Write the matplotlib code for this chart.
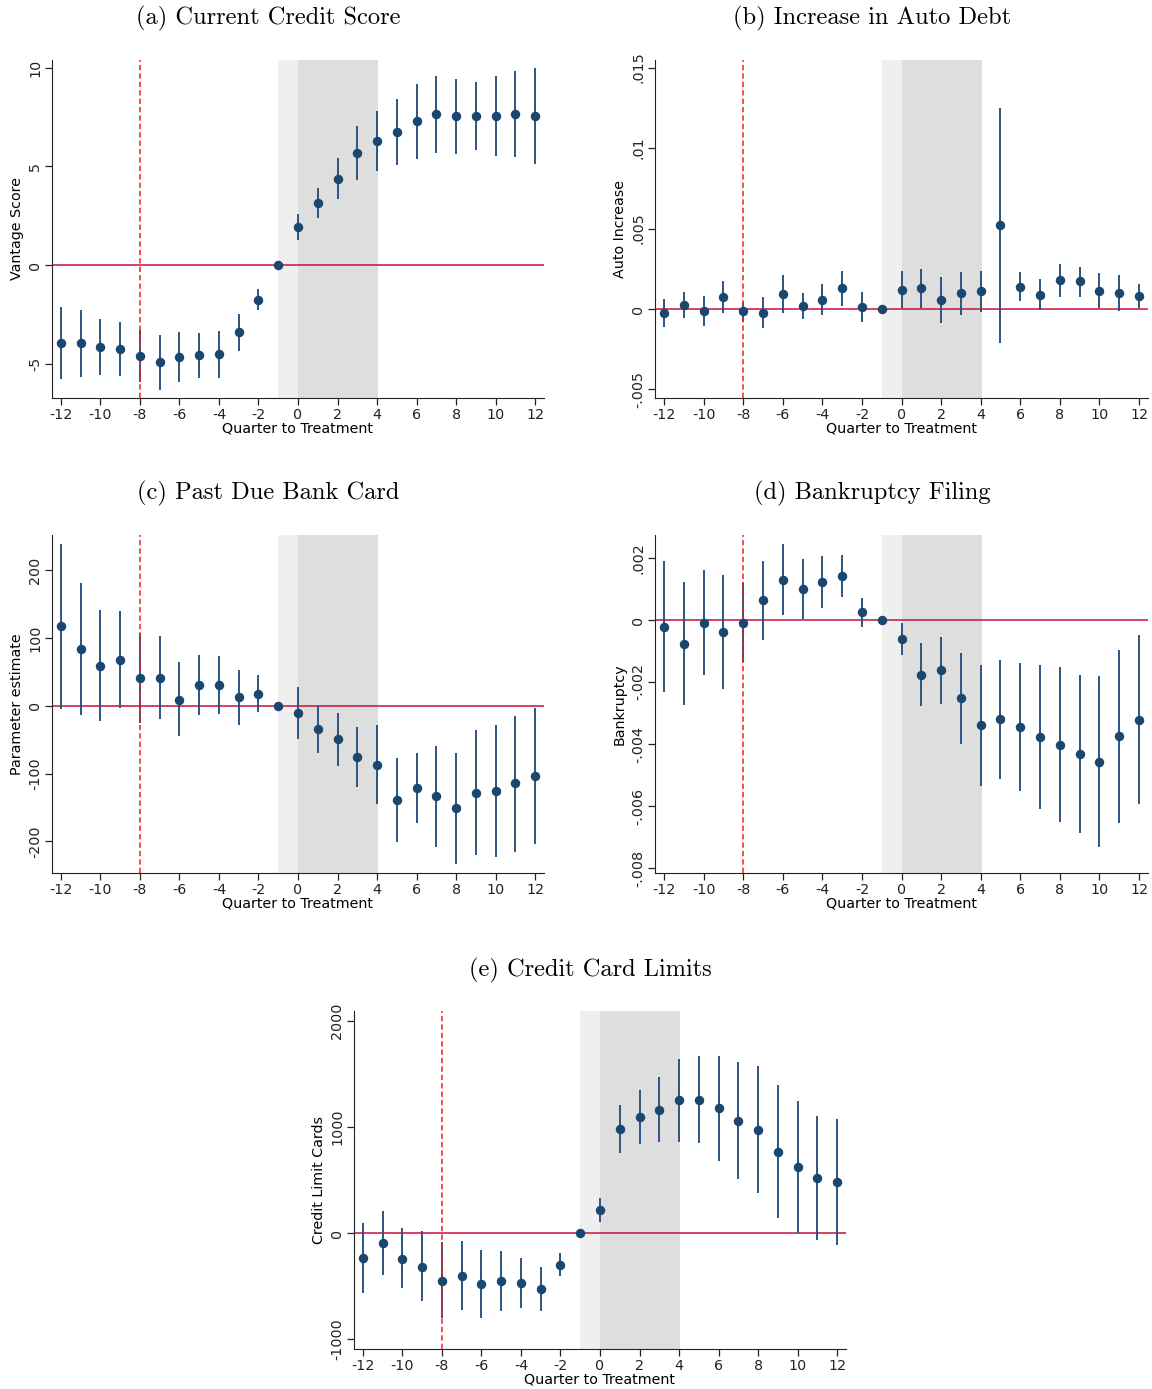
import matplotlib
matplotlib.use('Agg')
import matplotlib.pyplot as plt

# quarters relative to treatment
quarters = list(range(-12, 13))

# (a) Current Credit Score
score_est = [-3.97, -3.97, -4.18, -4.24, -4.62, -4.94, -4.65, -4.57, -4.53, -3.41, -1.77, 0.0,
             1.94, 3.14, 4.38, 5.69, 6.30, 6.76, 7.28, 7.64, 7.54, 7.56, 7.57, 7.67, 7.57]
score_hi = [-2.14, -2.27, -2.75, -2.87, -3.29, -3.55, -3.38, -3.43, -3.33, -2.48, -1.24, 0.0,
            2.58, 3.92, 5.45, 7.05, 7.81, 8.42, 9.19, 9.61, 9.46, 9.30, 9.59, 9.86, 10.0]
score_lo = [-5.81, -5.67, -5.59, -5.62, -5.93, -6.35, -5.94, -5.72, -5.76, -4.35, -2.31, 0.0,
            1.29, 2.36, 3.33, 4.31, 4.77, 5.06, 5.37, 5.67, 5.62, 5.82, 5.53, 5.48, 5.14]

# (b) Increase in Auto Debt
auto_est = [-0.00023, 0.00025, -0.00012, 0.00075, -0.00012, -0.00023, 0.00095, 0.00019, 0.00058,
            0.00129, 0.00012, 0.0, 0.00120, 0.00129, 0.00058, 0.00098, 0.00112, 0.00519, 0.00139,
            0.00089, 0.00178, 0.00172, 0.00114, 0.00100, 0.00079]
auto_hi = [0.00062, 0.00104, 0.00081, 0.00174, 0.00046, 0.00073, 0.00210, 0.00100, 0.00154,
           0.00237, 0.00104, 0.0, 0.00237, 0.00249, 0.00201, 0.00230, 0.00239, 0.01249, 0.00228,
           0.00187, 0.00282, 0.00261, 0.00224, 0.00212, 0.00154]
auto_lo = [-0.00110, -0.00058, -0.00106, -0.00027, -0.00079, -0.00120, -0.00023, -0.00064, -0.00037,
           0.00019, -0.00081, 0.0, 0.00008, 0.00008, -0.00089, -0.00039, -0.00017, -0.00214, 0.00052,
           -0.00006, 0.00073, 0.00077, 0.00004, -0.00010, 0.00004]

# (c) Past Due Bank Card
pastdue_est = [117.4, 84.0, 59.5, 68.3, 41.3, 41.8, 9.3, 30.5, 30.5, 12.8, 18.2, 0.0,
               -10.3, -33.9, -49.6, -75.2, -86.5, -139.1, -120.9, -133.2, -150.9, -128.3, -125.8, -114.5, -103.2]
pastdue_hi = [239.3, 181.3, 141.5, 140.0, 107.6, 102.7, 64.4, 75.7, 74.2, 53.1, 45.7, 0.0,
              28.0, 0.0, -10.8, -31.0, -28.5, -76.7, -68.8, -59.0, -69.3, -35.9, -28.5, -14.3, -2.5]
pastdue_lo = [-4.4, -12.8, -21.6, -2.9, -25.1, -18.7, -44.7, -13.8, -12.3, -27.5, -9.3, 0.0,
              -49.1, -68.8, -88.9, -119.9, -145.0, -201.0, -173.0, -207.9, -232.9, -220.1, -223.1, -215.2, -204.4]

# (d) Bankruptcy Filing
bank_est = [-0.00022, -0.00078, -0.00009, -0.00040, -0.00009, 0.00063, 0.00130, 0.00101, 0.00122,
            0.00142, 0.00027, 0.0, -0.00061, -0.00177, -0.00162, -0.00253, -0.00340, -0.00320,
            -0.00344, -0.00377, -0.00402, -0.00433, -0.00457, -0.00375, -0.00321]
bank_hi = [0.00190, 0.00121, 0.00160, 0.00146, 0.00121, 0.00189, 0.00245, 0.00198, 0.00205,
           0.00209, 0.00072, 0.0, -0.00009, -0.00075, -0.00054, -0.00108, -0.00144, -0.00128,
           -0.00138, -0.00144, -0.00153, -0.00179, -0.00181, -0.00097, -0.00047]
bank_lo = [-0.00233, -0.00273, -0.00178, -0.00224, -0.00137, -0.00064, 0.00015, 0.00004, 0.00039,
           0.00073, -0.00022, 0.0, -0.00114, -0.00279, -0.00270, -0.00399, -0.00536, -0.00512,
           -0.00552, -0.00609, -0.00651, -0.00686, -0.00733, -0.00654, -0.00595]

# (e) Credit Card Limits
limit_est = [-235, -97, -241, -316, -448, -401, -479, -454, -473, -529, -298, 0,
             219, 977, 1096, 1162, 1250, 1256, 1178, 1059, 974, 767, 623, 517, 479]
limit_hi = [97, 207, 44, 16, -88, -72, -160, -172, -238, -316, -191, 0,
            332, 1203, 1353, 1475, 1644, 1666, 1672, 1616, 1572, 1394, 1247, 1106, 1071]
limit_lo = [-570, -395, -523, -645, -799, -730, -799, -733, -711, -736, -404, 0,
            103, 752, 839, 855, 855, 846, 683, 507, 376, 141, 0, -66, -110]

x_ticks = list(range(-12, 13, 2))
x_labels = [str(v) for v in x_ticks]

score_ticks = [-5, 0, 5, 10]
score_labels = ['-5', '0', '5', '10']
auto_ticks = [-0.005, 0, 0.005, 0.01, 0.015]
auto_labels = ['-.005', '0', '.005', '.01', '.015']
pastdue_ticks = [-200, -100, 0, 100, 200]
pastdue_labels = ['-200', '-100', '0', '100', '200']
bank_ticks = [-0.008, -0.006, -0.004, -0.002, 0, 0.002]
bank_labels = ['-.008', '-.006', '-.004', '-.002', '0', '.002']
limit_ticks = [-1000, 0, 1000, 2000]
limit_labels = ['-1000', '0', '1000', '2000']

NAVY = '#1a476f'
BAR = '#2b5580'


def draw_panel(ax, est, lo, hi, ylim, yticks, ylabels, ylabel):
    ax.axvspan(-1, 0, color='#efefef', lw=0, zorder=0)
    ax.axvspan(0, 4.05, color='#dedede', lw=0, zorder=0)
    ax.axhline(0, color='#c8103a', lw=1.1, zorder=1)
    ax.vlines(quarters, lo, hi, color=BAR, lw=1.4, zorder=2)
    ax.axvline(-8, color='#ee2222', lw=1.1, ls=(0, (3.5, 2)), zorder=3)
    ax.plot(quarters, est, 'o', color=NAVY, ms=5.8, zorder=4)
    ax.set_xlim(-12.45, 12.45)
    ax.set_ylim(*ylim)
    ax.set_xticks(x_ticks)
    ax.set_xticklabels(x_labels, fontsize=10.3)
    ax.set_yticks(yticks)
    ax.set_yticklabels(ylabels, fontsize=10.3, rotation=90, va='center')
    ax.set_xlabel('Quarter to Treatment', fontsize=10.3, labelpad=0)
    ax.set_ylabel(ylabel, fontsize=10.3, labelpad=3)
    for s in ['top', 'right']:
        ax.spines[s].set_visible(False)
    ax.spines['left'].set_color('#222222')
    ax.spines['bottom'].set_color('#222222')
    ax.tick_params(length=5, width=0.9, pad=2, colors='#222222')


def main():
    plt.rcParams['figure.dpi'] = 100
    fig = plt.figure(figsize=(11.52, 13.89))
    W, H = 1152, 1389

    def rect(left, right, top, bottom):
        return [left / W, 1 - bottom / H, (right - left) / W, (bottom - top) / H]

    ax_a = fig.add_axes(rect(52, 544, 60, 398))
    ax_b = fig.add_axes(rect(655, 1148, 60, 398))
    ax_c = fig.add_axes(rect(52, 544, 535, 873))
    ax_d = fig.add_axes(rect(655, 1148, 535, 873))
    ax_e = fig.add_axes(rect(354, 846, 1011, 1349))

    draw_panel(ax_a, score_est, score_lo, score_hi, (-6.75, 10.4), score_ticks, score_labels, 'Vantage Score')
    draw_panel(ax_b, auto_est, auto_lo, auto_hi, (-0.00553, 0.01547), auto_ticks, auto_labels, 'Auto Increase')
    draw_panel(ax_c, pastdue_est, pastdue_lo, pastdue_hi, (-246.5, 252), pastdue_ticks, pastdue_labels,
               'Parameter estimate')
    draw_panel(ax_d, bank_est, bank_lo, bank_hi, (-0.00816, 0.00274), bank_ticks, bank_labels, 'Bankruptcy')
    draw_panel(ax_e, limit_est, limit_lo, limit_hi, (-1094, 2094), limit_ticks, limit_labels, 'Credit Limit Cards')

    titles = [('(a) Current Credit Score', 268, 18), ('(b) Increase in Auto Debt', 872, 18),
              ('(c) Past Due Bank Card', 268, 493), ('(d) Bankruptcy Filing', 872, 493),
              ('(e) Credit Card Limits', 590, 970)]
    for txt, x, y in titles:
        fig.text(x / W, 1 - y / H, txt, ha='center', va='center', fontsize=17.6, family='cmr10')

    fig.savefig('out.png', dpi=100, facecolor='white')


if __name__ == '__main__':
    main()
